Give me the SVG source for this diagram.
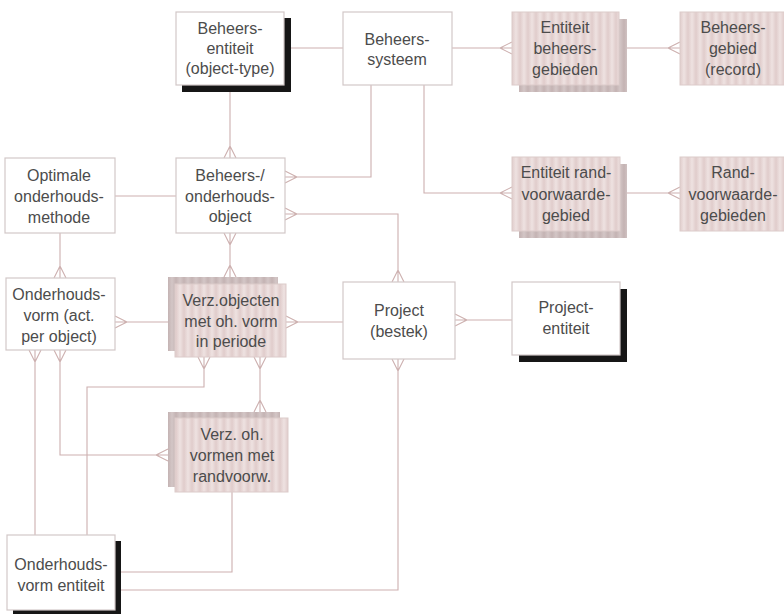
<svg xmlns="http://www.w3.org/2000/svg" width="784" height="614" viewBox="0 0 784 614">
  <style>
    .box { fill: #ffffff; stroke: #d2c8c8; stroke-width: 1.2; }
    .pink { fill: url(#tex); stroke: #dccbca; stroke-width: 1; }
    .pshadow { fill: url(#texdark); }
    .black { fill: #161616; }
    .lbl { font-family: "Liberation Sans", Arial, sans-serif; font-size: 16px; fill: #4c4c4c; text-anchor: middle; }
    .con { fill: none; stroke: #cdb0af; stroke-width: 1.1; }
  </style>
  <defs>
    <linearGradient id="stripe" x1="0" y1="0" x2="1" y2="0">
      <stop offset="0" stop-color="#e0cccb"/>
      <stop offset="0.5" stop-color="#eee2e1"/>
      <stop offset="1" stop-color="#e0cccb"/>
    </linearGradient>
    <linearGradient id="stripeDark" x1="0" y1="0" x2="1" y2="0">
      <stop offset="0" stop-color="#c4b3b3"/>
      <stop offset="0.5" stop-color="#d3c6c6"/>
      <stop offset="1" stop-color="#c4b3b3"/>
    </linearGradient>
    <pattern id="tex" width="8" height="40" patternUnits="userSpaceOnUse">
      <rect width="8" height="40" fill="url(#stripe)"/>
    </pattern>
    <pattern id="texdark" width="8" height="40" patternUnits="userSpaceOnUse">
      <rect width="8" height="40" fill="url(#stripeDark)"/>
    </pattern>
  </defs>

  <rect width="784" height="614" fill="#ffffff"/>

  <!-- connectors -->
  <g id="connectors" class="con">
    <!-- Beheers-entiteit — Beheers-systeem -->
    <path d="M291 48 H343"/>
    <!-- Beheers-systeem — Entiteit beheersgebieden -->
    <path d="M452 48 H512 M500 48 L512 42 M500 48 L512 54"/>
    <!-- Entiteit beheersgebieden — Beheersgebied -->
    <path d="M627 48 H680 M668 48 L680 42 M668 48 L680 54"/>
    <!-- Beheers-entiteit — Beheers-/onderhoudsobject -->
    <path d="M230 92 V158 M230 146 L224 158 M230 146 L236 158"/>
    <!-- Optimale onderhoudsmethode — Beheers-/onderhoudsobject -->
    <path d="M115 196 H176"/>
    <!-- Beheers-systeem — Beheers-/onderhoudsobject -->
    <path d="M371 85 V177 H285 M297 177 L285 171 M297 177 L285 183"/>
    <!-- Beheers-systeem — Entiteit randvoorwaardegebied -->
    <path d="M424 85 V193 H512 M500 193 L512 187 M500 193 L512 199"/>
    <!-- Entiteit randvoorwaardegebied — Randvoorwaardegebieden -->
    <path d="M627 193 H680 M668 193 L680 187 M668 193 L680 199"/>
    <!-- Beheers-/onderhoudsobject — Project -->
    <path d="M285 214 H398 V282 M297 214 L285 208 M297 214 L285 220 M398 270 L392 282 M398 270 L404 282"/>
    <!-- Optimale onderhoudsmethode — Onderhoudsvorm -->
    <path d="M60 233 V278 M60 266 L54 278 M60 266 L66 278"/>
    <!-- Beheers-/onderhoudsobject — Verz.objecten -->
    <path d="M230 233 V277 M230 245 L224 233 M230 245 L236 233 M230 265 L224 277 M230 265 L236 277"/>
    <!-- Onderhoudsvorm — Verz.objecten -->
    <path d="M115 322 H168 M127 322 L115 316 M127 322 L115 328"/>
    <!-- Verz.objecten — Project -->
    <path d="M286 322 H343 M298 322 L286 316 M298 322 L286 328"/>
    <!-- Project — Project-entiteit -->
    <path d="M455 320 H512 M467 320 L455 314 M467 320 L455 326"/>
    <!-- Verz.objecten — Verz. oh. vormen -->
    <path d="M260 357 V412 M260 369 L254 357 M260 369 L266 357 M260 400 L254 412 M260 400 L266 412"/>
    <!-- Onderhoudsvorm — Verz. oh. vormen -->
    <path d="M60 350 V455 H168 M60 362 L54 350 M60 362 L66 350 M156 455 L168 449 M156 455 L168 461"/>
    <!-- Onderhoudsvorm — Onderhoudsvorm entiteit -->
    <path d="M35 350 V535 M35 362 L29 350 M35 362 L41 350"/>
    <!-- Verz.objecten — Onderhoudsvorm entiteit -->
    <path d="M204 357 V387 H87 V535 M204 369 L198 357 M204 369 L210 357"/>
    <!-- Verz. oh. vormen — Onderhoudsvorm entiteit -->
    <path d="M232 492 V572 H121"/>
    <!-- Project — Onderhoudsvorm entiteit -->
    <path d="M398 359 V590 H121 M398 371 L392 359 M398 371 L404 359"/>
  </g>

  <g id="beheers-entiteit">
    <rect class="black" x="182" y="18" width="109" height="74"/>
    <rect class="box" x="176" y="12" width="108" height="73"/>
    <text class="lbl" x="230" y="34">Beheers-</text>
    <text class="lbl" x="230" y="54">entiteit</text>
    <text class="lbl" x="230" y="74">(object-type)</text>
  </g>

  <g id="beheers-systeem">
    <rect class="box" x="343" y="12" width="109" height="73"/>
    <text class="lbl" x="397" y="45">Beheers-</text>
    <text class="lbl" x="397" y="65">systeem</text>
  </g>

  <g id="entiteit-beheersgebieden">
    <rect class="pshadow" x="519" y="19" width="108" height="73"/>
    <rect class="pink" x="512" y="12" width="107" height="73"/>
    <text class="lbl" x="565" y="33">Entiteit</text>
    <text class="lbl" x="565" y="54">beheers-</text>
    <text class="lbl" x="565" y="75">gebieden</text>
  </g>

  <g id="beheersgebied-record">
    <rect class="pink" x="680" y="12" width="110" height="73"/>
    <text class="lbl" x="733" y="33">Beheers-</text>
    <text class="lbl" x="733" y="54">gebied</text>
    <text class="lbl" x="733" y="75">(record)</text>
  </g>

  <g id="optimale-onderhoudsmethode">
    <rect class="box" x="5" y="158" width="110" height="75"/>
    <text class="lbl" x="59" y="181">Optimale</text>
    <text class="lbl" x="59" y="202">onderhouds-</text>
    <text class="lbl" x="59" y="223">methode</text>
  </g>

  <g id="beheers-onderhoudsobject">
    <rect class="box" x="176" y="158" width="109" height="75"/>
    <text class="lbl" x="230" y="181">Beheers-/</text>
    <text class="lbl" x="230" y="202">onderhouds-</text>
    <text class="lbl" x="230" y="222">object</text>
  </g>

  <g id="entiteit-randvoorwaardegebied">
    <rect class="pshadow" x="519" y="164" width="108" height="74"/>
    <rect class="pink" x="512" y="157" width="108" height="74"/>
    <text class="lbl" x="566" y="178">Entiteit rand-</text>
    <text class="lbl" x="566" y="200">voorwaarde-</text>
    <text class="lbl" x="566" y="221">gebied</text>
  </g>

  <g id="randvoorwaardegebieden">
    <rect class="pink" x="680" y="157" width="110" height="74"/>
    <text class="lbl" x="733" y="178">Rand-</text>
    <text class="lbl" x="733" y="200">voorwaarde-</text>
    <text class="lbl" x="733" y="221">gebieden</text>
  </g>

  <g id="onderhoudsvorm">
    <rect class="box" x="6" y="278" width="109" height="72"/>
    <text class="lbl" x="59" y="300">Onderhouds-</text>
    <text class="lbl" x="59" y="321">vorm (act.</text>
    <text class="lbl" x="59" y="342">per object)</text>
  </g>

  <g id="verz-objecten">
    <rect class="pshadow" x="168" y="277" width="110" height="74"/>
    <rect class="pink" x="175" y="284" width="111" height="73"/>
    <text class="lbl" x="231" y="306">Verz.objecten</text>
    <text class="lbl" x="231" y="327">met oh. vorm</text>
    <text class="lbl" x="231" y="347">in periode</text>
  </g>

  <g id="project-bestek">
    <rect class="box" x="343" y="282" width="112" height="77"/>
    <text class="lbl" x="399" y="316">Project</text>
    <text class="lbl" x="399" y="337">(bestek)</text>
  </g>

  <g id="project-entiteit">
    <rect class="black" x="519" y="289" width="108" height="73"/>
    <rect class="box" x="512" y="282" width="108" height="73"/>
    <text class="lbl" x="566" y="313">Project-</text>
    <text class="lbl" x="566" y="334">entiteit</text>
  </g>

  <g id="verz-oh-vormen">
    <rect class="pshadow" x="168" y="412" width="112" height="75"/>
    <rect class="pink" x="175" y="418" width="113" height="74"/>
    <text class="lbl" x="232" y="440">Verz. oh.</text>
    <text class="lbl" x="232" y="461">vormen met</text>
    <text class="lbl" x="232" y="482">randvoorw.</text>
  </g>

  <g id="onderhoudsvorm-entiteit">
    <rect class="black" x="13" y="541" width="108" height="80"/>
    <rect class="box" x="7" y="535" width="108" height="75"/>
    <text class="lbl" x="61" y="570">Onderhouds-</text>
    <text class="lbl" x="61" y="591">vorm entiteit</text>
  </g>
</svg>
